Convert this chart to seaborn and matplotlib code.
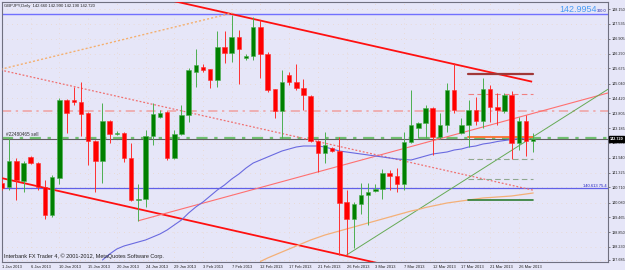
import matplotlib
matplotlib.use("Agg")
import matplotlib.pyplot as plt
import seaborn as sns
import numpy as np
import pandas as pd
from matplotlib.transforms import blended_transform_factory

# ---------------- data ----------------
opens = [140.906, 140.715, 141.824, 140.990, 141.991, 141.740, 140.715, 139.559, 141.090, 144.355,
         144.355, 144.284, 143.800, 142.658, 141.811, 143.492, 142.925, 142.966, 141.924, 140.185,
         140.214, 142.866, 143.634, 143.867, 141.924, 142.925, 143.730, 145.535, 145.717, 145.635,
         145.189, 146.553, 146.302, 146.995, 146.124, 146.196, 147.412, 146.263, 144.801, 143.909,
         145.385, 145.118, 144.843, 144.534, 142.645, 142.157, 142.341, 142.241, 140.089, 139.380,
         140.018, 140.394, 140.573, 140.631, 141.323, 141.198, 140.852, 142.591, 143.175, 143.383,
         144.009, 142.825, 143.313, 144.772, 142.991, 143.313, 143.938, 143.492, 144.801, 144.076,
         143.909, 144.564, 142.574, 143.479, 142.660]
highs = [141.019, 142.758, 141.924, 141.824, 142.020, 141.760, 141.019, 141.228, 144.426, 144.384,
         144.897, 145.106, 143.850, 142.700, 144.217, 143.520, 143.062, 143.000, 142.549, 140.852,
         143.104, 144.217, 143.938, 143.900, 143.104, 144.147, 145.689, 146.482, 145.856, 145.660,
         147.245, 147.245, 147.900, 147.274, 146.279, 147.805, 147.691, 146.371, 144.830, 145.606,
         145.523, 145.856, 145.218, 144.560, 142.670, 143.033, 142.395, 142.825, 140.602, 140.114,
         140.906, 140.881, 140.852, 141.465, 141.436, 141.507, 143.033, 144.772, 143.450, 144.147,
         144.050, 143.800, 145.051, 145.885, 143.592, 144.355, 144.493, 145.260, 144.981, 144.634,
         144.634, 144.743, 143.659, 143.730, 142.990]
lows = [140.602, 140.602, 140.185, 140.531, 141.686, 140.602, 139.380, 139.489, 140.852, 142.966,
        144.147, 142.854, 141.644, 140.531, 140.881, 142.549, 142.875, 141.782, 140.150, 139.322,
        139.906, 142.479, 143.592, 141.853, 141.900, 142.900, 143.450, 144.897, 145.523, 144.843,
        144.910, 145.910, 145.952, 145.022, 146.023, 146.023, 145.260, 144.701, 143.592, 142.758,
        144.981, 144.772, 143.938, 142.620, 141.365, 141.715, 142.187, 137.891, 137.891, 138.183,
        139.601, 139.143, 140.531, 140.214, 140.602, 140.531, 140.602, 142.549, 142.758, 142.758,
        142.062, 142.716, 143.033, 143.800, 142.937, 142.408, 143.313, 143.175, 143.450, 143.313,
        143.800, 141.882, 142.270, 142.020, 142.190]
closes = [140.673, 141.824, 141.019, 141.715, 141.740, 140.715, 139.559, 141.132, 144.355, 143.800,
          144.272, 143.771, 142.658, 141.811, 143.492, 142.937, 142.991, 141.924, 140.185, 140.239,
          142.866, 143.771, 143.825, 141.924, 142.925, 143.730, 145.606, 145.814, 145.606, 145.189,
          146.578, 146.302, 146.995, 146.469, 146.196, 147.412, 146.263, 144.772, 143.909, 145.118,
          145.093, 144.843, 144.564, 142.658, 142.157, 142.479, 142.241, 140.072, 139.380, 140.018,
          140.394, 140.531, 140.631, 141.323, 141.198, 140.852, 142.604, 143.313, 143.383, 144.009,
          142.825, 143.313, 144.772, 143.938, 143.313, 143.938, 143.492, 144.801, 144.076, 143.938,
          144.564, 142.574, 143.479, 142.658, 142.720]

date_labels = ["1 Jan 2013", "6 Jan 2013", "10 Jan 2013", "15 Jan 2013", "20 Jan 2013",
               "24 Jan 2013", "29 Jan 2013", "3 Feb 2013", "7 Feb 2013", "12 Feb 2013",
               "17 Feb 2013", "21 Feb 2013", "26 Feb 2013", "3 Mar 2013", "7 Mar 2013",
               "12 Mar 2013", "17 Mar 2013", "21 Mar 2013", "26 Mar 2013"]
date_label_bars = [0, 4, 8, 12, 16, 20, 24, 28, 32, 36, 40, 44, 48, 52, 56, 60, 64, 68, 72]

price_ticks = [148.150, 147.535, 146.905, 146.290, 145.675, 145.040, 144.420, 143.805, 143.185,
               142.570, 141.940, 141.325, 140.710, 140.080, 139.465, 138.850, 138.230, 137.685]

# moving average (blue), bars 14..74
ma_blue_start = 14
ma_blue = [137.683, 137.933, 138.142, 138.267, 138.350, 138.434, 138.517, 138.642, 138.767, 138.934,
           139.143, 139.351, 139.643, 139.893, 140.102, 140.352, 140.602, 140.811, 141.061, 141.269,
           141.519, 141.728, 141.853, 141.978, 142.103, 142.228, 142.312, 142.395, 142.437, 142.437,
           142.437, 142.395, 142.312, 142.228, 142.187, 142.145, 142.103, 142.062, 142.020, 141.978,
           141.936, 141.895, 141.874, 141.853, 141.936, 142.020, 142.103, 142.145, 142.187, 142.270,
           142.312, 142.395, 142.437, 142.520, 142.562, 142.624, 142.666, 142.708, 142.750, 142.770,
           142.812]
# moving average (orange), bars 36..74
ma_orange_start = 36
ma_orange = [137.621, 137.766, 137.892, 138.017, 138.142, 138.267, 138.392, 138.517, 138.621, 138.726,
             138.809, 138.892, 138.976, 139.059, 139.143, 139.226, 139.309, 139.393, 139.476, 139.560,
             139.643, 139.726, 139.789, 139.872, 139.935, 139.997, 140.060, 140.102, 140.144, 140.185,
             140.227, 140.269, 140.289, 140.310, 140.331, 140.352, 140.394, 140.435, 140.477]

# trend lines (bar index, price)
channel_top = ([23.9, 73.85], [148.483, 145.118])
channel_bottom = ([0.0, 52.7], [141.094, 137.529])
channel_mid = ([-0.2, 74.0], [145.606, 140.594])
orange_fan = ([-0.2, 32.1], [145.635, 147.983])
red_up = ([19.0, 84.4], [139.32, 144.647])
green_up = ([48.0, 84.4], [137.89, 144.80])

# horizontal levels
level_blue_top = 147.941
level_blue_low = 140.665
level_sell = 142.760
level_bid = 142.720
level_stop = 143.909
short_levels = [145.419, 144.605, 142.825, 141.882, 141.048, 140.185]
short_level_span = (64.95, 74.0)

# ---------------- figure ----------------
sns.set_theme(style="white")
plt.rcParams['font.family'] = ['Liberation Sans', 'DejaVu Sans']

W, H = 625, 270
fig = plt.figure(figsize=(W / 100, H / 100), dpi=100)
fig.patch.set_facecolor("#e6e6f8")
ax = fig.add_axes([2 / W, 8 / H, 606 / W, 260 / H])
ax.set_facecolor("#e6e6f8")

ax.set_xlim(0.139, 84.42)
ax.set_ylim(137.599, 148.442)

# faint dotted grid
for b in date_label_bars:
    ax.axvline(b, color="#ecd0b8", lw=0.5, ls=(0, (1, 6)), zorder=0)
for p in price_ticks:
    ax.axhline(p, color="#ecd0b8", lw=0.5, ls=(0, (1, 6)), zorder=0)

# full width horizontal lines
ax.axhline(level_blue_top, color="#7070ff", lw=1.0, zorder=2)
ax.axhline(level_blue_low, color="#6060e8", lw=0.9, zorder=2)
ax.axhline(level_stop, color="#f0a0a0", lw=1.1, ls=(0, (6, 3, 1.5, 3)), zorder=2)
ax.axhline(level_sell, color="#70c070", lw=1.6, ls=(0, (5, 3, 1.5, 3)), zorder=2)
ax.axhline(level_bid, color="#606060", lw=0.8, zorder=2)

# trend lines
ax.plot(*channel_top, color="#ff1010", lw=1.3, zorder=3, solid_capstyle="butt")
ax.plot(*channel_bottom, color="#ff1010", lw=1.3, zorder=3, solid_capstyle="butt")
ax.plot(*channel_mid, color="#f07070", lw=0.9, ls=(0, (1.5, 1.5)), zorder=3)
ax.plot(*orange_fan, color="#f4b070", lw=1.0, ls=(0, (1.5, 1.5)), zorder=3)
ax.plot(*red_up, color="#ff7070", lw=0.8, zorder=3)
ax.plot(*green_up, color="#66aa55", lw=0.7, zorder=3)

# moving averages via seaborn
blue_df = pd.DataFrame({"bar": np.arange(ma_blue_start, ma_blue_start + len(ma_blue)), "ma": ma_blue})
orange_df = pd.DataFrame({"bar": np.arange(ma_orange_start, ma_orange_start + len(ma_orange)), "ma": ma_orange})
sns.lineplot(data=blue_df, x="bar", y="ma", ax=ax, color="#6a6ae0", lw=0.8, legend=False, zorder=3)
sns.lineplot(data=orange_df, x="bar", y="ma", ax=ax, color="#f4b078", lw=0.9, legend=False, zorder=3)

# short levels at right
x0, x1 = short_level_span
ax.plot([x0, x1], [short_levels[0]] * 2, color="#a03838", lw=1.6, zorder=3)
ax.plot([x0, x1], [short_levels[1]] * 2, color="#f08080", lw=0.8, ls=(0, (5, 3)), zorder=3)
ax.plot([x0, x1], [short_levels[2]] * 2, color="#ff7030", lw=1.3, zorder=3)
ax.plot([x0, x1], [short_levels[3]] * 2, color="#90a890", lw=0.8, ls=(0, (5, 3)), zorder=3)
ax.plot([x0, x1], [short_levels[4]] * 2, color="#90a890", lw=0.8, ls=(0, (5, 3)), zorder=3)
ax.plot([x0, x1], [short_levels[5]] * 2, color="#2e7d32", lw=1.2, zorder=3)

# candles
for i, (o, h, l, c) in enumerate(zip(opens, highs, lows, closes)):
    up = c >= o
    body_col = "#008000" if up else "#ff0000"
    wick_col = "#4caf50" if up else "#ff3030"
    ax.vlines(i, l, h, color=wick_col, lw=0.7, zorder=4)
    hgt = max(abs(c - o), 0.035)
    ax.bar(i, hgt, bottom=min(o, c), width=0.62, color=body_col,
           edgecolor=wick_col, linewidth=0.4, zorder=5)

# frame
for s in ax.spines.values():
    s.set_color("#707080")
    s.set_linewidth(0.8)

# ticks
ax.set_xticks(date_label_bars)
ax.set_xticklabels(date_labels, fontsize=2.9, ha="left", color="#202020")
ax.tick_params(axis="x", length=1.5, width=0.5, pad=0.6, colors="#505050")
ax.yaxis.tick_right()
ax.set_yticks(price_ticks)
ax.set_yticklabels([f"{p:.3f}" for p in price_ticks], fontsize=2.7, color="#202020")
ax.tick_params(axis="y", length=1.5, width=0.5, pad=0.8, colors="#505050")
for lab in ax.get_xticklabels() + ax.get_yticklabels():
    lab.set_color("#202020")
ax.set_xlabel("")
ax.set_ylabel("")

# texts
ax.text(0.003, 0.994, "GBPJPY,Daily  142.660 142.990 142.190 142.720", transform=ax.transAxes,
        fontsize=3.0, va="top", ha="left", color="#202020")
ax.text(0.003, 0.012, "Interbank FX Trader 4, \u00a9 2001-2012, MetaQuotes Software Corp.",
        transform=ax.transAxes, fontsize=4.0, va="bottom", ha="left", color="#202020")
ax.text(0.5, level_sell + 0.05, "#22480465 sell", fontsize=3.4, va="bottom", ha="left", color="#303030")
ax.text(82.85, level_blue_top + 0.02, "142.9954", fontsize=6.5, va="bottom", ha="right", color="#4a9cf5")
ax.text(84.2, level_blue_top + 0.04, "300.0", fontsize=2.8, va="bottom", ha="right", color="#2020b0")
ax.text(84.2, level_blue_low + 0.02, "140.613 75.4", fontsize=3.0, va="bottom", ha="right", color="#2020c0")

# current price box on the axis
trans = blended_transform_factory(ax.transAxes, ax.transData)
ax.text(1.003, level_bid, "142.720", transform=trans, fontsize=2.7, va="center", ha="left",
        color="white", fontweight="bold",
        bbox=dict(boxstyle="square,pad=0.2", fc="black", ec="black"), zorder=10, clip_on=False)

fig.savefig("out.png", dpi=100, facecolor=fig.get_facecolor())
